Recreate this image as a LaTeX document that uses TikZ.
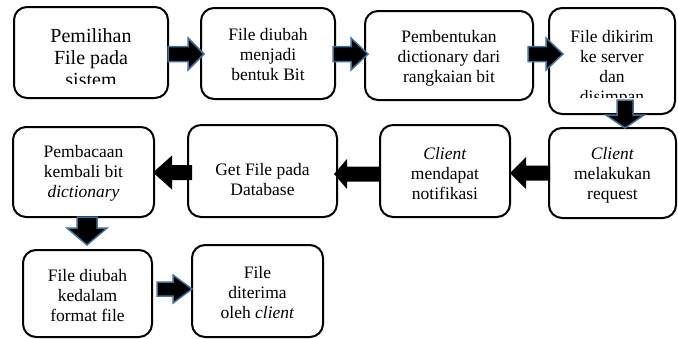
\documentclass[tikz,border=0pt]{standalone}
\usepackage{fontspec}
\setmainfont{Liberation Serif}
\definecolor{arrowblue}{RGB}{65,113,156}
\tikzset{
  box/.style={draw, line width=2pt, rounded corners=13pt, inner sep=0pt},
  txt/.style={align=center, inner sep=0pt, anchor=base, font=\fontsize{17.5}{20}\selectfont},
  bigtxt/.style={align=center, inner sep=0pt, anchor=base, font=\fontsize{20}{22}\selectfont},
  blockblue/.style={draw=arrowblue, fill=black, line width=1.5pt, line join=miter},
  blockblack/.style={fill=black, draw=none},
  pics/barrow/.style n args={4}{code={
    \path[pic actions] (0,-#2) -- ({#1-#4},-#2) -- ({#1-#4},-#3) -- (#1,0)
      -- ({#1-#4},#3) -- ({#1-#4},#2) -- (0,#2) -- cycle;}}
}
\begin{document}
\begin{tikzpicture}[x=1pt,y=-1pt]
\useasboundingbox[fill=white] (0,0) rectangle (678,338);
% boxes
\node[box, minimum width=154pt, minimum height=91pt] (B1) at (91,52.5) {};
\node[box, minimum width=134pt, minimum height=91pt] (B2) at (268,53.5) {};
\node[box, minimum width=168pt, minimum height=89pt] (B3) at (449,55.5) {};
\node[box, minimum width=126pt, minimum height=106pt] (B4) at (612,61) {};
\node[box, minimum width=127pt, minimum height=90pt] (B5) at (612.5,173) {};
\node[box, minimum width=130pt, minimum height=92pt] (B6) at (445,171) {};
\node[box, minimum width=149pt, minimum height=92pt] (B7) at (262.5,171) {};
\node[box, minimum width=141pt, minimum height=90pt] (B8) at (83.5,172) {};
\node[box, minimum width=129pt, minimum height=87pt] (B9) at (87.5,293.5) {};
\node[box, minimum width=131pt, minimum height=92pt] (B10) at (257.5,291) {};
% texts (anchor = baseline of last line)
\begin{scope}
\clip (14,7) rectangle (168,83);
\node[bigtxt] (T1) at (91,86) {Pemilihan\\File pada\\sistem};
\end{scope}
\node[txt] (T2) at (268,80) {File diubah\\menjadi\\bentuk Bit};
\node[txt] (T3) at (449,82) {Pembentukan\\dictionary dari\\rangkaian bit};
\begin{scope}
\clip (549,8) rectangle (675,97);
\node[txt] (T4) at (612,102) {File dikirim\\ke server\\dan\\disimpan};
\end{scope}
\node[txt] (T5) at (612.5,199) {\textit{Client}\\melakukan\\request};
\node[txt] (T6) at (445,199) {\textit{Client}\\mendapat\\notifikasi};
\node[txt] (T7) at (262.5,195) {Get File pada\\Database};
\node[txt] (T8) at (83.5,197) {Pembacaan\\kembali bit\\\textit{dictionary}};
\node[txt] (T9) at (87.5,321) {File diubah\\kedalam\\format file};
\node[txt] (T10) at (257.5,318) {File\\diterima\\oleh \textit{client}};
% block arrows
\coordinate (a1) at (168,54);
\coordinate (a2) at (333,54);
\coordinate (a3) at (528,54);
\coordinate (a4) at (625,100);
\coordinate (a5) at (550,173);
\coordinate (a6) at (380,174);
\coordinate (a7) at (192,172.5);
\coordinate (a8) at (87,217);
\coordinate (a9) at (157,289);
\pic[blockblue] at (a1) {barrow={36}{7.5}{16}{16}};
\pic[blockblue] at (a2) {barrow={35}{7.5}{16}{17}};
\pic[blockblue] at (a3) {barrow={35}{7.5}{16}{17}};
\pic[blockblue, rotate=-90] at (a4) {barrow={28}{8}{19}{13}};
\pic[blockblack, rotate=180] at (a5) {barrow={40}{7.5}{16}{16}};
\pic[blockblack, rotate=180] at (a6) {barrow={46}{7.5}{15}{13}};
\pic[blockblack, rotate=180] at (a7) {barrow={39}{7.5}{17}{19}};
\pic[blockblue, rotate=-90] at (a8) {barrow={28}{10}{20}{17}};
\pic[blockblue] at (a9) {barrow={35}{7}{14}{19}};
\end{tikzpicture}
\end{document}
